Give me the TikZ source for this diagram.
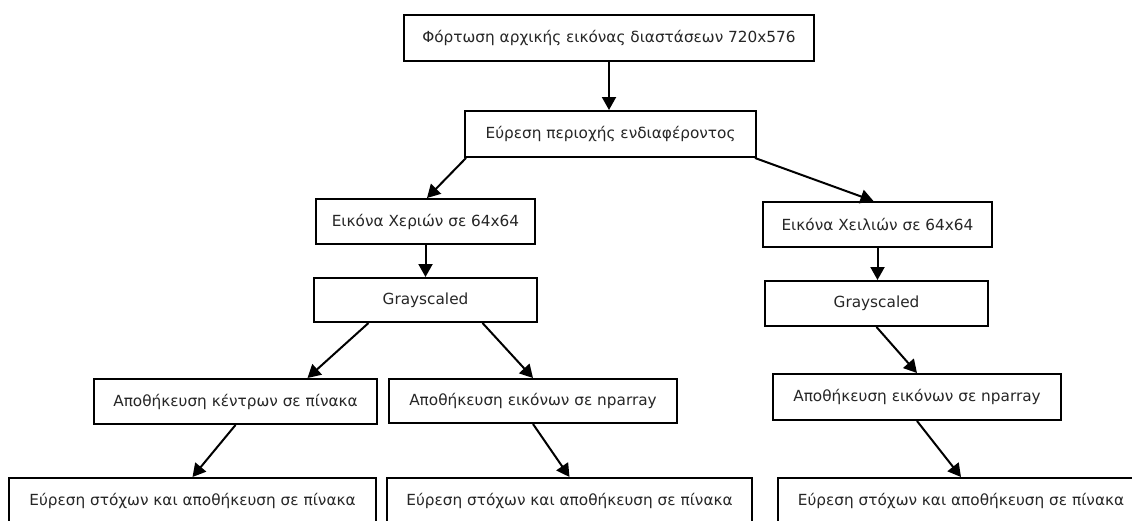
\documentclass[tikz,border=0pt]{standalone}
\usepackage{fontspec}
\setmainfont{DejaVu Sans}
\usetikzlibrary{arrows.meta}
\tikzset{
  stage/.style={draw=black, line width=2pt, fill=white, inner sep=0pt,
    font=\fontsize{15.3}{18}\selectfont, text=black!85},
  flow/.style={line width=2pt, -{Triangle[length=13pt,width=14pt]}}
}
\begin{document}
\begin{tikzpicture}[x=1pt,y=-1pt]
\useasboundingbox (0,0) rectangle (1132,520);
\clip (0,0) rectangle (1132,520);
% processing stages
\node[stage, minimum width=410pt, minimum height=46pt] (load) at (609,38) {Φόρτωση αρχικής εικόνας διαστάσεων 720x576};
\node[stage, minimum width=291pt, minimum height=46pt] (roi) at (610.5,134) {Εύρεση περιοχής ενδιαφέροντος};
\node[stage, minimum width=219pt, minimum height=45pt] (hands) at (425.5,221.5) {Εικόνα Χεριών σε 64x64};
\node[stage, minimum width=223pt, minimum height=44pt] (grayL) at (425.5,300) {Grayscaled};
\node[stage, minimum width=229pt, minimum height=45pt] (lips) at (877.5,224.5) {Εικόνα Χειλιών σε 64x64};
\node[stage, minimum width=223pt, minimum height=45pt] (grayR) at (876.5,303.5) {Grayscaled};
\node[stage, minimum width=283pt, minimum height=45pt] (centres) at (235.5,401.5) {Αποθήκευση κέντρων σε πίνακα};
\node[stage, minimum width=288pt, minimum height=44pt] (imgsL) at (533,401) {Αποθήκευση εικόνων σε nparray};
\node[stage, minimum width=288pt, minimum height=46pt] (imgsR) at (917,397) {Αποθήκευση εικόνων σε nparray};
\node[stage, minimum width=367pt, minimum height=45pt] (targetsA) at (192.5,500.5) {Εύρεση στόχων και αποθήκευση σε πίνακα};
\node[stage, minimum width=365pt, minimum height=45pt] (targetsB) at (569.5,500.5) {Εύρεση στόχων και αποθήκευση σε πίνακα};
\node[stage, minimum width=366pt, minimum height=45pt] (targetsC) at (961,500.5) {Εύρεση στόχων και αποθήκευση σε πίνακα};
% connectors
\draw[flow] (load.south) -- (roi.north -| load.south);
\draw[flow] ([xshift=2pt]roi.south west) -- ([xshift=1.5pt]hands.north);
\draw[flow] ([xshift=-2pt]roi.south east) -- ([xshift=-4pt]lips.north);
\draw[flow] (hands.south) -- (grayL.north);
\draw[flow] (lips.south) -- (lips.south |- grayR.north);
\draw[flow] ([xshift=-57pt]grayL.south) -- ([xshift=72pt]centres.north);
\draw[flow] ([xshift=57pt]grayL.south) -- (imgsL.north);
\draw[flow] (grayR.south) -- (imgsR.north);
\draw[flow] (centres.south) -- (targetsA.north);
\draw[flow] (imgsL.south) -- (targetsB.north);
\draw[flow] (imgsR.south) -- (targetsC.north);
\end{tikzpicture}
\end{document}
